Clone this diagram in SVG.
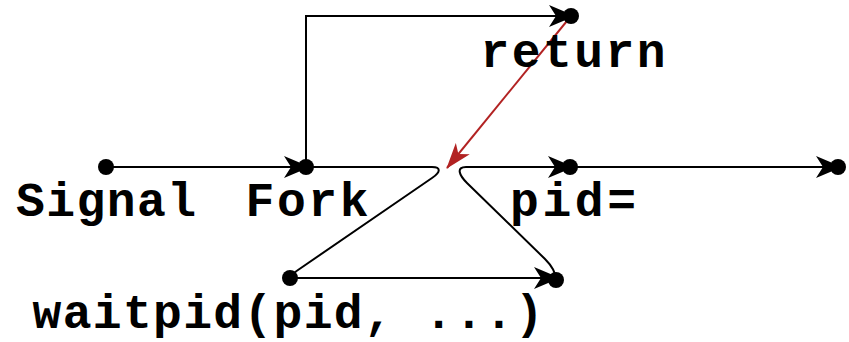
<svg xmlns="http://www.w3.org/2000/svg" width="849" height="342" viewBox="0 0 849 342">
<defs>
<style>
.t{font-family:"Liberation Mono","DejaVu Sans Mono",monospace;font-weight:bold;font-size:48px;fill:#000;text-anchor:middle}
.l{fill:none;stroke:#000;stroke-width:2}
.r{fill:none;stroke:#b22222;stroke-width:2}
.d{fill:#000}
</style>
<marker id="a" viewBox="0 0 26 24" markerWidth="26" markerHeight="24" refX="22" refY="12" orient="auto" markerUnits="userSpaceOnUse">
<path d="M0,1 L26,12 L0,23 L7,12 Z" fill="#000"/>
</marker>
<marker id="ar" viewBox="0 0 26 20" markerWidth="26" markerHeight="20" refX="25" refY="10" orient="auto" markerUnits="userSpaceOnUse">
<path d="M0,1 L26,10 L0,19 L7,10 Z" fill="#b22222"/>
</marker>
</defs>
<g id="connectors">
<path class="l" d="M106,167 H306" marker-end="url(#a)"/>
<path class="l" d="M306,167 V16 H571" marker-end="url(#a)"/>
<path class="l" d="M306,167 H432 C441,167 441,172 432,178 L298,270 C292,274 290,277 290,278"/>
<path class="l" d="M290,278 H556" marker-end="url(#a)"/>
<path class="l" d="M556,280 C556,272 552,266 545,259 L467,183 C459,175 456,167 466,167 H570" marker-end="url(#a)"/>
<path class="l" d="M570,167 H838" marker-end="url(#a)"/>
<path class="r" d="M571,16 L447,168" marker-end="url(#ar)"/>
</g>
<g id="signal"><circle class="d" cx="106" cy="167" r="8"/><text class="t" x="106" y="216" textLength="180">Signal</text></g>
<g id="fork"><circle class="d" cx="306" cy="167" r="8"/><text class="t" x="307" y="216" textLength="123">Fork</text></g>
<g id="return"><circle class="d" cx="571" cy="16" r="8"/><text class="t" x="573" y="67" textLength="185">return</text></g>
<g id="pid"><circle class="d" cx="570" cy="167" r="8"/><text class="t" x="573" y="216" textLength="126">pid=</text></g>
<g id="end"><circle class="d" cx="838" cy="167" r="8"/></g>
<g id="waitpid"><circle class="d" cx="290" cy="278" r="8"/><text class="t" x="288" y="328" textLength="511">waitpid(pid, ...)</text></g>
<g id="waitend"><circle class="d" cx="556" cy="280" r="8"/></g>
</svg>
